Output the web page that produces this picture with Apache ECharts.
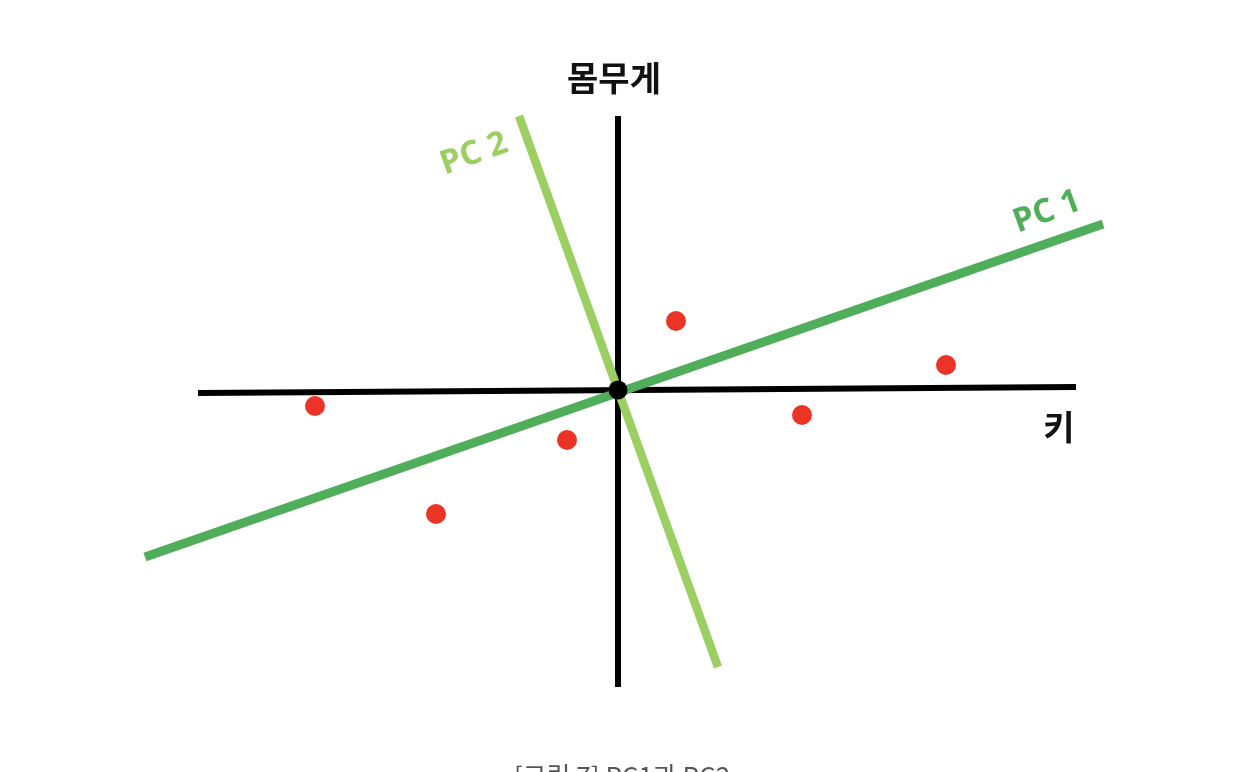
<!DOCTYPE html>
<html><head><meta charset="utf-8">
<script src="https://cdn.jsdelivr.net/npm/echarts@6/dist/echarts.min.js"></script>
<style>html,body{margin:0;padding:0;background:#fff}#c{width:1260px;height:772px}</style>
</head><body><div id="c"></div>
<script>
// data space: origin at the intersection of the axes, y up
const axisX = [[-420, -3], [458, 3]];      // 키
const axisY = [[0, 274], [0, -297]];       // 몸무게
const pc1 = [[-473, -167], [485, 166]];
const pc2 = [[-99, 274], [100, -277]];
const points = [[-303, -16], [-182, -124], [-51, -50], [58, 69], [184, -25], [328, 25]];
const origin = [[0, 0]];
const labels = { y: '몸무게', x: '키', pc1: 'PC 1', pc2: 'PC 2', caption: '[그림 7] PC1과 PC2' };

const font = '"Noto Sans CJK KR", "Noto Sans", sans-serif';
const latin = '"Open Sans", "Noto Sans", sans-serif';
const chart = echarts.init(document.getElementById('c'));
const line = (d, color, w, z) => ({
  type: 'line', data: d, symbol: 'none', silent: true, z: z, animation: false,
  lineStyle: { color: color, width: w, cap: 'butt' }
});
chart.setOption({
  animation: false,
  grid: { left: 0, right: 0, top: 0, bottom: 0 },
  xAxis: { type: 'value', min: -618, max: 642, show: false },
  yAxis: { type: 'value', min: -382, max: 390, show: false },
  series: [
    line(axisX, '#000000', 6, 1),
    line(axisY, '#000000', 6, 1),
    line(pc2, '#9ccf62', 8.5, 2),
    line(pc1, '#50ad5a', 9, 3),
    { type: 'scatter', data: points, symbolSize: 20, itemStyle: { color: '#ec3426', opacity: 1 }, z: 4, silent: true },
    { type: 'scatter', data: origin, symbolSize: 19, itemStyle: { color: '#000000', opacity: 1 }, z: 5, silent: true }
  ],
  graphic: [
    { type: 'text', x: 614, y: 78, style: { text: labels.y, font: 'bold 34px ' + font, fill: '#111', align: 'center', verticalAlign: 'middle' } },
    { type: 'text', x: 1059, y: 427, style: { text: labels.x, font: 'bold 34px ' + font, fill: '#111', align: 'center', verticalAlign: 'middle' } },
    { type: 'text', x: 1047, y: 212, rotation: 20 * Math.PI / 180, style: { text: labels.pc1, font: 'bold 33px ' + latin, fill: '#50ad5a', align: 'center', verticalAlign: 'middle' } },
    { type: 'text', x: 474, y: 154, rotation: 20 * Math.PI / 180, style: { text: labels.pc2, font: 'bold 33px ' + latin, fill: '#9ccf62', align: 'center', verticalAlign: 'middle' } },
    { type: 'text', x: 622, y: 763, style: { text: labels.caption, font: '26px ' + font, fill: '#555', align: 'center', verticalAlign: 'top' } }
  ]
});
</script></body></html>
